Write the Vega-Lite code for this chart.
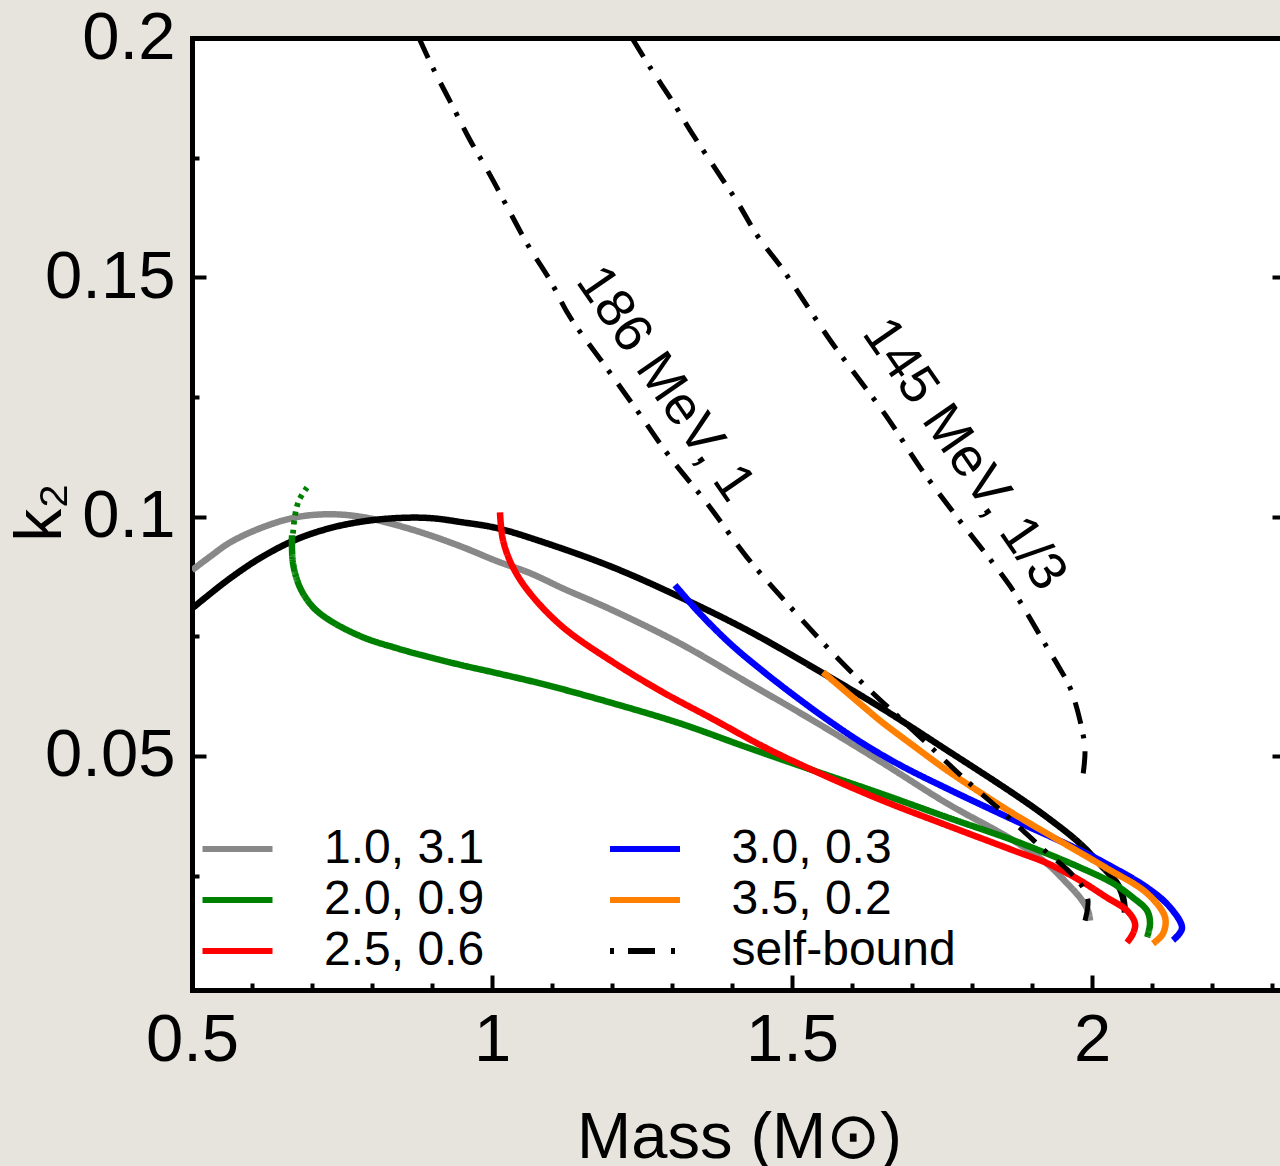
{
  "$schema": "https://vega.github.io/schema/vega-lite/v6.json",
  "width": 1088,
  "height": 952,
  "autosize": {"type": "none"},
  "padding": {"left": 192, "top": 38, "right": 0, "bottom": 176},
  "background": "#e6e4dd",
  "config": {
    "view": {"stroke": null, "fill": "#ffffff"},
    "font": "Liberation Sans",
    "axis": {
      "grid": false, "domainColor": "#000000", "tickColor": "#000000", "labelColor": "#000000", "titleColor": "#000000",
      "labelFont": "Liberation Sans", "titleFont": "Liberation Sans", "titleFontWeight": "normal",
      "domainWidth": 5, "tickWidth": 4, "domainCap": "square", "labelFlush": false, "labelOverlap": false, "labelBound": false
    }
  },
  "datasets": {
    "lines": [
      {"c":"a","s":"1.0, 3.1","d":"solid","i":0,"m":0.5,"k":0.0888},
      {"c":"a","s":"1.0, 3.1","d":"solid","i":1,"m":0.5317,"k":0.0918},
      {"c":"a","s":"1.0, 3.1","d":"solid","i":2,"m":0.5633,"k":0.0946},
      {"c":"a","s":"1.0, 3.1","d":"solid","i":3,"m":0.6183,"k":0.0978},
      {"c":"a","s":"1.0, 3.1","d":"solid","i":4,"m":0.675,"k":0.0999},
      {"c":"a","s":"1.0, 3.1","d":"solid","i":5,"m":0.73,"k":0.1005},
      {"c":"a","s":"1.0, 3.1","d":"solid","i":6,"m":0.785,"k":0.0999},
      {"c":"a","s":"1.0, 3.1","d":"solid","i":7,"m":0.8417,"k":0.0982},
      {"c":"a","s":"1.0, 3.1","d":"solid","i":8,"m":0.8967,"k":0.0961},
      {"c":"a","s":"1.0, 3.1","d":"solid","i":9,"m":0.9517,"k":0.0936},
      {"c":"a","s":"1.0, 3.1","d":"solid","i":10,"m":1.0083,"k":0.0907},
      {"c":"a","s":"1.0, 3.1","d":"solid","i":11,"m":1.0633,"k":0.0882},
      {"c":"a","s":"1.0, 3.1","d":"solid","i":12,"m":1.1183,"k":0.0850},
      {"c":"a","s":"1.0, 3.1","d":"solid","i":13,"m":1.2017,"k":0.0804},
      {"c":"a","s":"1.0, 3.1","d":"solid","i":14,"m":1.3133,"k":0.0735},
      {"c":"a","s":"1.0, 3.1","d":"solid","i":15,"m":1.425,"k":0.0654},
      {"c":"a","s":"1.0, 3.1","d":"solid","i":16,"m":1.535,"k":0.0574},
      {"c":"a","s":"1.0, 3.1","d":"solid","i":17,"m":1.6467,"k":0.0489},
      {"c":"a","s":"1.0, 3.1","d":"solid","i":18,"m":1.7583,"k":0.0401},
      {"c":"a","s":"1.0, 3.1","d":"solid","i":19,"m":1.8683,"k":0.0324},
      {"c":"a","s":"1.0, 3.1","d":"solid","i":20,"m":1.925,"k":0.0275},
      {"c":"a","s":"1.0, 3.1","d":"solid","i":21,"m":1.9583,"k":0.0234},
      {"c":"a","s":"1.0, 3.1","d":"solid","i":22,"m":1.98,"k":0.0204},
      {"c":"a","s":"1.0, 3.1","d":"solid","i":23,"m":1.9933,"k":0.0177},
      {"c":"a","s":"1.0, 3.1","d":"solid","i":24,"m":1.9967,"k":0.0156},

      {"c":"n","s":"nucleonic","d":"solid","i":0,"m":0.5,"k":0.0808},
      {"c":"n","s":"nucleonic","d":"solid","i":1,"m":0.5633,"k":0.0871},
      {"c":"n","s":"nucleonic","d":"solid","i":2,"m":0.6183,"k":0.0917},
      {"c":"n","s":"nucleonic","d":"solid","i":3,"m":0.675,"k":0.0953},
      {"c":"n","s":"nucleonic","d":"solid","i":4,"m":0.73,"k":0.0976},
      {"c":"n","s":"nucleonic","d":"solid","i":5,"m":0.785,"k":0.0990},
      {"c":"n","s":"nucleonic","d":"solid","i":6,"m":0.8417,"k":0.0997},
      {"c":"n","s":"nucleonic","d":"solid","i":7,"m":0.8967,"k":0.0997},
      {"c":"n","s":"nucleonic","d":"solid","i":8,"m":0.9517,"k":0.0988},
      {"c":"n","s":"nucleonic","d":"solid","i":9,"m":1.0083,"k":0.0976},
      {"c":"n","s":"nucleonic","d":"solid","i":10,"m":1.0917,"k":0.0944},
      {"c":"n","s":"nucleonic","d":"solid","i":11,"m":1.2017,"k":0.0894},
      {"c":"n","s":"nucleonic","d":"solid","i":12,"m":1.3133,"k":0.0832},
      {"c":"n","s":"nucleonic","d":"solid","i":13,"m":1.425,"k":0.0763},
      {"c":"n","s":"nucleonic","d":"solid","i":14,"m":1.535,"k":0.0685},
      {"c":"n","s":"nucleonic","d":"solid","i":15,"m":1.6467,"k":0.0602},
      {"c":"n","s":"nucleonic","d":"solid","i":16,"m":1.7583,"k":0.0512},
      {"c":"n","s":"nucleonic","d":"solid","i":17,"m":1.8683,"k":0.0422},
      {"c":"n","s":"nucleonic","d":"solid","i":18,"m":1.925,"k":0.0372},
      {"c":"n","s":"nucleonic","d":"solid","i":19,"m":1.98,"k":0.0317},
      {"c":"n","s":"nucleonic","d":"solid","i":20,"m":2.0183,"k":0.0267},
      {"c":"n","s":"nucleonic","d":"solid","i":21,"m":2.0417,"k":0.0234},
      {"c":"n","s":"nucleonic","d":"solid","i":22,"m":2.0517,"k":0.0204},
      {"c":"n","s":"nucleonic","d":"solid","i":23,"m":2.055,"k":0.0173},

      {"c":"gd","s":"2.0, 0.9","d":"dot","i":0,"m":0.6683,"k":0.0965},
      {"c":"gd","s":"2.0, 0.9","d":"dot","i":1,"m":0.6717,"k":0.1003},
      {"c":"gd","s":"2.0, 0.9","d":"dot","i":2,"m":0.6783,"k":0.1034},
      {"c":"gd","s":"2.0, 0.9","d":"dot","i":3,"m":0.6917,"k":0.1061},

      {"c":"g","s":"2.0, 0.9","d":"solid","i":0,"m":0.6667,"k":0.0961},
      {"c":"g","s":"2.0, 0.9","d":"solid","i":1,"m":0.6683,"k":0.0903},
      {"c":"g","s":"2.0, 0.9","d":"solid","i":2,"m":0.68,"k":0.0852},
      {"c":"g","s":"2.0, 0.9","d":"solid","i":3,"m":0.7017,"k":0.0811},
      {"c":"g","s":"2.0, 0.9","d":"solid","i":4,"m":0.73,"k":0.0783},
      {"c":"g","s":"2.0, 0.9","d":"solid","i":5,"m":0.785,"k":0.0748},
      {"c":"g","s":"2.0, 0.9","d":"solid","i":6,"m":0.8417,"k":0.0725},
      {"c":"g","s":"2.0, 0.9","d":"solid","i":7,"m":0.8967,"k":0.0706},
      {"c":"g","s":"2.0, 0.9","d":"solid","i":8,"m":0.9517,"k":0.0689},
      {"c":"g","s":"2.0, 0.9","d":"solid","i":9,"m":1.0083,"k":0.0673},
      {"c":"g","s":"2.0, 0.9","d":"solid","i":10,"m":1.0917,"k":0.0648},
      {"c":"g","s":"2.0, 0.9","d":"solid","i":11,"m":1.2017,"k":0.0610},
      {"c":"g","s":"2.0, 0.9","d":"solid","i":12,"m":1.3133,"k":0.0568},
      {"c":"g","s":"2.0, 0.9","d":"solid","i":13,"m":1.425,"k":0.0518},
      {"c":"g","s":"2.0, 0.9","d":"solid","i":14,"m":1.535,"k":0.0470},
      {"c":"g","s":"2.0, 0.9","d":"solid","i":15,"m":1.6467,"k":0.0422},
      {"c":"g","s":"2.0, 0.9","d":"solid","i":16,"m":1.7583,"k":0.0372},
      {"c":"g","s":"2.0, 0.9","d":"solid","i":17,"m":1.8683,"k":0.0324},
      {"c":"g","s":"2.0, 0.9","d":"solid","i":18,"m":1.925,"k":0.0296},
      {"c":"g","s":"2.0, 0.9","d":"solid","i":19,"m":1.98,"k":0.0267},
      {"c":"g","s":"2.0, 0.9","d":"solid","i":20,"m":2.035,"k":0.0234},
      {"c":"g","s":"2.0, 0.9","d":"solid","i":21,"m":2.0683,"k":0.0204},
      {"c":"g","s":"2.0, 0.9","d":"solid","i":22,"m":2.0917,"k":0.0177},
      {"c":"g","s":"2.0, 0.9","d":"solid","i":23,"m":2.0967,"k":0.0150},
      {"c":"g","s":"2.0, 0.9","d":"solid","i":24,"m":2.0917,"k":0.0121},

      {"c":"r","s":"2.5, 0.6","d":"solid","i":0,"m":1.0133,"k":0.1009},
      {"c":"r","s":"2.5, 0.6","d":"solid","i":1,"m":1.0183,"k":0.0951},
      {"c":"r","s":"2.5, 0.6","d":"solid","i":2,"m":1.035,"k":0.0894},
      {"c":"r","s":"2.5, 0.6","d":"solid","i":3,"m":1.0633,"k":0.0840},
      {"c":"r","s":"2.5, 0.6","d":"solid","i":4,"m":1.1183,"k":0.0769},
      {"c":"r","s":"2.5, 0.6","d":"solid","i":5,"m":1.2017,"k":0.0696},
      {"c":"r","s":"2.5, 0.6","d":"solid","i":6,"m":1.285,"k":0.0633},
      {"c":"r","s":"2.5, 0.6","d":"solid","i":7,"m":1.3683,"k":0.0577},
      {"c":"r","s":"2.5, 0.6","d":"solid","i":8,"m":1.4517,"k":0.0520},
      {"c":"r","s":"2.5, 0.6","d":"solid","i":9,"m":1.535,"k":0.0470},
      {"c":"r","s":"2.5, 0.6","d":"solid","i":10,"m":1.6467,"k":0.0409},
      {"c":"r","s":"2.5, 0.6","d":"solid","i":11,"m":1.7583,"k":0.0355},
      {"c":"r","s":"2.5, 0.6","d":"solid","i":12,"m":1.8683,"k":0.0303},
      {"c":"r","s":"2.5, 0.6","d":"solid","i":13,"m":1.925,"k":0.0276},
      {"c":"r","s":"2.5, 0.6","d":"solid","i":14,"m":1.98,"k":0.0240},
      {"c":"r","s":"2.5, 0.6","d":"solid","i":15,"m":2.025,"k":0.0204},
      {"c":"r","s":"2.5, 0.6","d":"solid","i":16,"m":2.0583,"k":0.0177},
      {"c":"r","s":"2.5, 0.6","d":"solid","i":17,"m":2.0717,"k":0.0150},
      {"c":"r","s":"2.5, 0.6","d":"solid","i":18,"m":2.0683,"k":0.0129},
      {"c":"r","s":"2.5, 0.6","d":"solid","i":19,"m":2.0583,"k":0.0110},

      {"c":"b","s":"3.0, 0.3","d":"solid","i":0,"m":1.305,"k":0.0857},
      {"c":"b","s":"3.0, 0.3","d":"solid","i":1,"m":1.3417,"k":0.0804},
      {"c":"b","s":"3.0, 0.3","d":"solid","i":2,"m":1.3967,"k":0.0735},
      {"c":"b","s":"3.0, 0.3","d":"solid","i":3,"m":1.4517,"k":0.0677},
      {"c":"b","s":"3.0, 0.3","d":"solid","i":4,"m":1.5083,"k":0.0622},
      {"c":"b","s":"3.0, 0.3","d":"solid","i":5,"m":1.5633,"k":0.0572},
      {"c":"b","s":"3.0, 0.3","d":"solid","i":6,"m":1.6183,"k":0.0526},
      {"c":"b","s":"3.0, 0.3","d":"solid","i":7,"m":1.68,"k":0.0481},
      {"c":"b","s":"3.0, 0.3","d":"solid","i":8,"m":1.7583,"k":0.0432},
      {"c":"b","s":"3.0, 0.3","d":"solid","i":9,"m":1.8683,"k":0.0367},
      {"c":"b","s":"3.0, 0.3","d":"solid","i":10,"m":1.98,"k":0.0303},
      {"c":"b","s":"3.0, 0.3","d":"solid","i":11,"m":2.025,"k":0.0274},
      {"c":"b","s":"3.0, 0.3","d":"solid","i":12,"m":2.0917,"k":0.0225},
      {"c":"b","s":"3.0, 0.3","d":"solid","i":13,"m":2.13,"k":0.0184},
      {"c":"b","s":"3.0, 0.3","d":"solid","i":14,"m":2.15,"k":0.0140},
      {"c":"b","s":"3.0, 0.3","d":"solid","i":15,"m":2.135,"k":0.0115},

      {"c":"o","s":"3.5, 0.2","d":"solid","i":0,"m":1.5517,"k":0.0675},
      {"c":"o","s":"3.5, 0.2","d":"solid","i":1,"m":1.6183,"k":0.0604},
      {"c":"o","s":"3.5, 0.2","d":"solid","i":2,"m":1.6467,"k":0.0574},
      {"c":"o","s":"3.5, 0.2","d":"solid","i":3,"m":1.7017,"k":0.0522},
      {"c":"o","s":"3.5, 0.2","d":"solid","i":4,"m":1.7583,"k":0.0470},
      {"c":"o","s":"3.5, 0.2","d":"solid","i":5,"m":1.8133,"k":0.0424},
      {"c":"o","s":"3.5, 0.2","d":"solid","i":6,"m":1.8683,"k":0.0380},
      {"c":"o","s":"3.5, 0.2","d":"solid","i":7,"m":1.925,"k":0.0338},
      {"c":"o","s":"3.5, 0.2","d":"solid","i":8,"m":1.98,"k":0.0298},
      {"c":"o","s":"3.5, 0.2","d":"solid","i":9,"m":2.025,"k":0.0265},
      {"c":"o","s":"3.5, 0.2","d":"solid","i":10,"m":2.0917,"k":0.0213},
      {"c":"o","s":"3.5, 0.2","d":"solid","i":11,"m":2.1217,"k":0.0163},
      {"c":"o","s":"3.5, 0.2","d":"solid","i":12,"m":2.1183,"k":0.0129},
      {"c":"o","s":"3.5, 0.2","d":"solid","i":13,"m":2.1017,"k":0.0108},

      {"c":"s1","s":"self-bound","d":"dashdot","i":0,"m":0.8783,"k":0.2},
      {"c":"s1","s":"self-bound","d":"dashdot","i":1,"m":0.9017,"k":0.1937},
      {"c":"s1","s":"self-bound","d":"dashdot","i":2,"m":0.9333,"k":0.1860},
      {"c":"s1","s":"self-bound","d":"dashdot","i":3,"m":0.9633,"k":0.1787},
      {"c":"s1","s":"self-bound","d":"dashdot","i":4,"m":0.9967,"k":0.1714},
      {"c":"s1","s":"self-bound","d":"dashdot","i":5,"m":1.03,"k":0.1636},
      {"c":"s1","s":"self-bound","d":"dashdot","i":6,"m":1.06,"k":0.1567},
      {"c":"s1","s":"self-bound","d":"dashdot","i":7,"m":1.0967,"k":0.1494},
      {"c":"s1","s":"self-bound","d":"dashdot","i":8,"m":1.13,"k":0.1417},
      {"c":"s1","s":"self-bound","d":"dashdot","i":9,"m":1.185,"k":0.1321},
      {"c":"s1","s":"self-bound","d":"dashdot","i":10,"m":1.2417,"k":0.1222},
      {"c":"s1","s":"self-bound","d":"dashdot","i":11,"m":1.2967,"k":0.1124},
      {"c":"s1","s":"self-bound","d":"dashdot","i":12,"m":1.3583,"k":0.1028},
      {"c":"s1","s":"self-bound","d":"dashdot","i":13,"m":1.425,"k":0.0915},
      {"c":"s1","s":"self-bound","d":"dashdot","i":14,"m":1.4917,"k":0.0819},
      {"c":"s1","s":"self-bound","d":"dashdot","i":15,"m":1.5633,"k":0.0721},
      {"c":"s1","s":"self-bound","d":"dashdot","i":16,"m":1.635,"k":0.0631},
      {"c":"s1","s":"self-bound","d":"dashdot","i":17,"m":1.68,"k":0.0579},
      {"c":"s1","s":"self-bound","d":"dashdot","i":18,"m":1.73,"k":0.0520},
      {"c":"s1","s":"self-bound","d":"dashdot","i":19,"m":1.785,"k":0.0455},
      {"c":"s1","s":"self-bound","d":"dashdot","i":20,"m":1.8417,"k":0.0393},
      {"c":"s1","s":"self-bound","d":"dashdot","i":21,"m":1.885,"k":0.0344},
      {"c":"s1","s":"self-bound","d":"dashdot","i":22,"m":1.925,"k":0.0298},
      {"c":"s1","s":"self-bound","d":"dashdot","i":23,"m":1.9583,"k":0.0263},
      {"c":"s1","s":"self-bound","d":"dashdot","i":24,"m":1.985,"k":0.0225},
      {"c":"s1","s":"self-bound","d":"dashdot","i":25,"m":1.9933,"k":0.0198},
      {"c":"s1","s":"self-bound","d":"dashdot","i":26,"m":1.9883,"k":0.0156},

      {"c":"s2","s":"self-bound","d":"dashdot","i":0,"m":1.2333,"k":0.2},
      {"c":"s2","s":"self-bound","d":"dashdot","i":1,"m":1.2633,"k":0.1939},
      {"c":"s2","s":"self-bound","d":"dashdot","i":2,"m":1.3017,"k":0.1866},
      {"c":"s2","s":"self-bound","d":"dashdot","i":3,"m":1.3333,"k":0.1801},
      {"c":"s2","s":"self-bound","d":"dashdot","i":4,"m":1.3717,"k":0.1728},
      {"c":"s2","s":"self-bound","d":"dashdot","i":5,"m":1.41,"k":0.1655},
      {"c":"s2","s":"self-bound","d":"dashdot","i":6,"m":1.4417,"k":0.1588},
      {"c":"s2","s":"self-bound","d":"dashdot","i":7,"m":1.4833,"k":0.1519},
      {"c":"s2","s":"self-bound","d":"dashdot","i":8,"m":1.5,"k":0.1488},
      {"c":"s2","s":"self-bound","d":"dashdot","i":9,"m":1.5633,"k":0.1369},
      {"c":"s2","s":"self-bound","d":"dashdot","i":10,"m":1.5967,"k":0.1312},
      {"c":"s2","s":"self-bound","d":"dashdot","i":11,"m":1.6583,"k":0.1208},
      {"c":"s2","s":"self-bound","d":"dashdot","i":12,"m":1.7133,"k":0.1103},
      {"c":"s2","s":"self-bound","d":"dashdot","i":13,"m":1.775,"k":0.0999},
      {"c":"s2","s":"self-bound","d":"dashdot","i":14,"m":1.835,"k":0.0903},
      {"c":"s2","s":"self-bound","d":"dashdot","i":15,"m":1.8683,"k":0.0846},
      {"c":"s2","s":"self-bound","d":"dashdot","i":16,"m":1.8917,"k":0.0798},
      {"c":"s2","s":"self-bound","d":"dashdot","i":17,"m":1.925,"k":0.0727},
      {"c":"s2","s":"self-bound","d":"dashdot","i":18,"m":1.9433,"k":0.0689},
      {"c":"s2","s":"self-bound","d":"dashdot","i":19,"m":1.9633,"k":0.0643},
      {"c":"s2","s":"self-bound","d":"dashdot","i":20,"m":1.98,"k":0.0574},
      {"c":"s2","s":"self-bound","d":"dashdot","i":21,"m":1.9883,"k":0.0512},
      {"c":"s2","s":"self-bound","d":"dashdot","i":22,"m":1.9833,"k":0.0445}
    ],
    "notes": [
      {"m": 1.2883, "k": 0.1277, "t": "186 MeV, 1"},
      {"m": 1.7867, "k": 0.1130, "t": "145 MeV, 1/3"}
    ]
  },
  "layer": [
    {
      "data": {"name": "lines"},
      "mark": {"type": "line", "clip": true, "strokeCap": "butt", "strokeJoin": "round", "interpolate": "catmull-rom"},
      "encoding": {
        "x": {
          "field": "m", "type": "quantitative",
          "scale": {"domain": [0.5, 2.31333], "nice": false, "zero": false},
          "axis": {
            "orient": "bottom",
            "values": [0.5,0.6,0.7,0.8,0.9,1,1.1,1.2,1.3,1.4,1.5,1.6,1.7,1.8,1.9,2,2.1,2.2,2.3],
            "tickSize": {"condition": {"test": "round(datum.value*10)%5==0", "value": -15}, "value": -7},
            "labelExpr": "round(datum.value*10)%5==0 ? format(datum.value,'~g') : ''",
            "labelFontSize": 67, "labelPadding": 32,
            "title": "Mass (M⊙)", "titleFontSize": 65, "titleX": 547, "titleY": 167,
            "titleAlign": "center", "titleBaseline": "alphabetic"
          }
        },
        "y": {
          "field": "k", "type": "quantitative",
          "scale": {"domain": [0.0011, 0.2], "nice": false, "zero": false},
          "axis": {
            "orient": "left",
            "values": [0.025,0.05,0.075,0.1,0.125,0.15,0.175,0.2],
            "tickSize": {"condition": {"test": "round(datum.value*40)%2==0", "value": -14}, "value": -7},
            "labelExpr": "round(datum.value*40)%2==0 ? format(datum.value,'~g') : ''",
            "labelFontSize": 67, "labelPadding": 31,
            "title": "k₂", "titleFontSize": 66, "titleX": -132, "titleY": 474,
            "titleAlign": "center", "titleBaseline": "alphabetic", "titleAngle": -90
          }
        },
        "color": {
          "field": "s", "type": "nominal",
          "scale": {
            "domain": ["1.0, 3.1","2.0, 0.9","2.5, 0.6","3.0, 0.3","3.5, 0.2","self-bound","nucleonic"],
            "range": ["#888888","#008000","#ff0000","#0000ff","#ff8000","#000000","#000000"]
          },
          "legend": {
            "orient": "none", "legendX": 21.5, "legendY": 787,
            "columns": 2, "columnPadding": 113.5, "rowPadding": 3, "padding": 0,
            "values": ["1.0, 3.1","2.0, 0.9","2.5, 0.6","3.0, 0.3","3.5, 0.2","self-bound"],
            "title": null,
            "symbolType": "M-2,0H2", "symbolSize": 1225, "symbolStrokeWidth": 6,
            "labelFontSize": 48, "labelFont": "Liberation Sans", "labelColor": "#000000",
            "labelOffset": 62.5, "labelLimit": 0,
            "encode": {"symbols": {"update": {"strokeDash": {"signal": "datum.value === 'self-bound' ? [4,14,27,16,4,10] : [1,0]"}}}}
          }
        },
        "strokeDash": {
          "field": "d", "type": "nominal",
          "scale": {"domain": ["solid","dot","dashdot"], "range": [[1,0],[4,5],[22,11,4,13]]},
          "legend": null
        },
        "strokeWidth": {
          "field": "d", "type": "nominal",
          "scale": {"domain": ["solid","dot","dashdot"], "range": [6.5,5,5]},
          "legend": null
        },
        "detail": {"field": "c"},
        "order": {"field": "i", "type": "quantitative"}
      }
    },
    {
      "data": {"name": "notes"},
      "mark": {"type": "text", "angle": 55.5, "fontSize": 54, "align": "center", "baseline": "middle", "font": "Liberation Sans", "color": "#000000"},
      "encoding": {
        "x": {
          "field": "m", "type": "quantitative",
          "scale": {"domain": [0.5, 2.31333], "nice": false, "zero": false},
          "axis": {"orient": "top", "domain": true, "ticks": false, "labels": false, "title": null}
        },
        "y": {
          "field": "k", "type": "quantitative",
          "scale": {"domain": [0.0011, 0.2], "nice": false, "zero": false},
          "axis": {"orient": "right", "domain": false, "labels": false, "title": null, "values": [0.05,0.1,0.15,0.2], "tickSize": -8}
        },
        "text": {"field": "t"}
      }
    }
  ],
  "resolve": {"axis": {"x": "independent", "y": "independent"}}
}
